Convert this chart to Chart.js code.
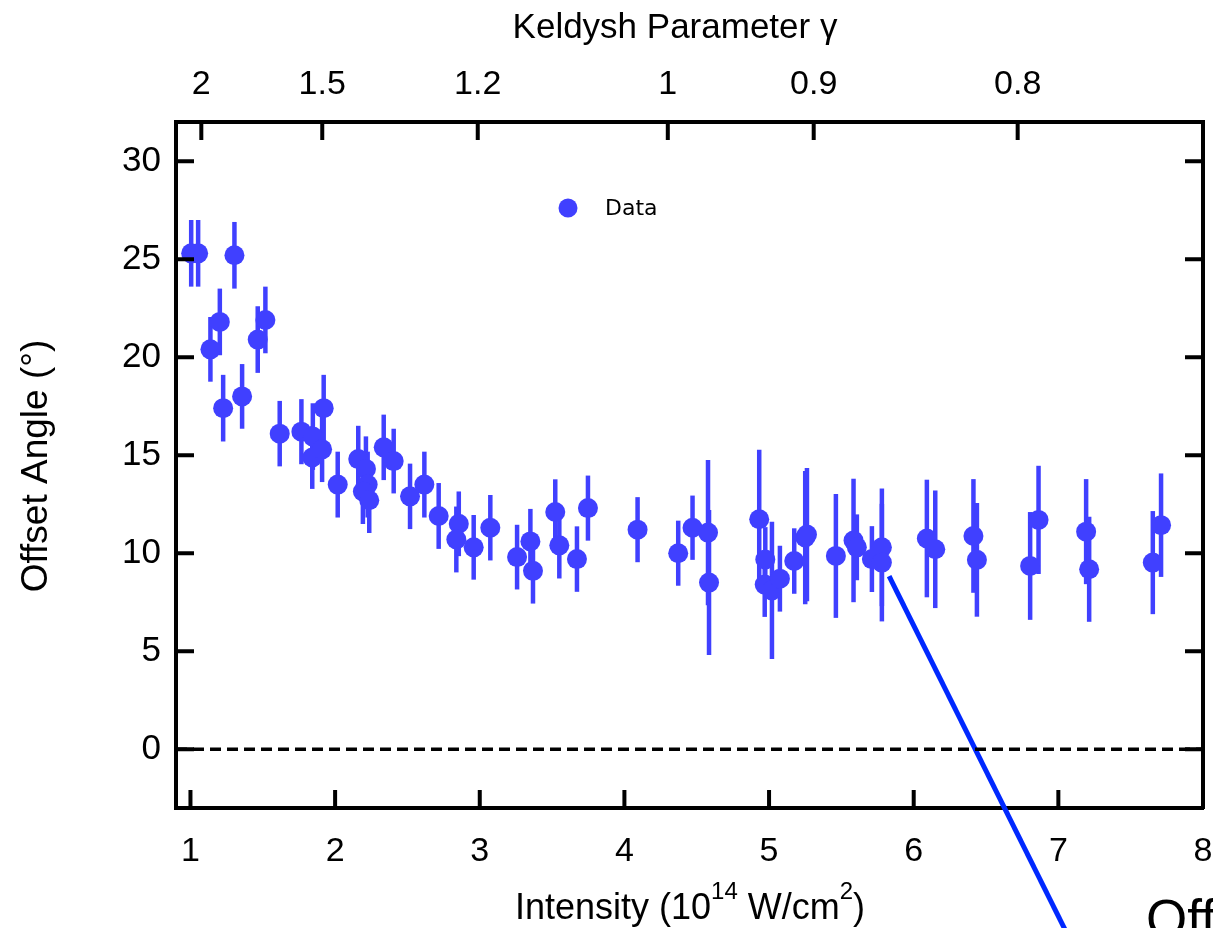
<!DOCTYPE html>
<html>
<head>
<meta charset="utf-8">
<script src="https://cdn.jsdelivr.net/npm/chart.js@4.4.1/dist/chart.umd.min.js"></script>
<style>
html, body { margin: 0; padding: 0; background: #fff; }
#grafica { display: block; }
</style>
</head>
<body>
<canvas id="grafica" width="1213" height="928"></canvas>
<script>
// measured offset angle vs. laser intensity (10^14 W/cm^2)
const intensity = [
  1.005, 1.053, 1.138, 1.203, 1.226, 1.304, 1.357, 1.465, 1.518, 1.617,
  1.767, 1.846, 1.842, 1.910, 1.921, 2.018, 2.160, 2.213, 2.225, 2.192,
  2.236, 2.336, 2.405, 2.518, 2.617, 2.716, 2.855, 2.838, 2.958, 3.073,
  3.258, 3.350, 3.368, 3.522, 3.550, 3.672, 3.748, 4.091, 4.372, 4.471,
  4.578, 4.585, 4.932, 4.974, 4.970, 5.020, 5.075, 5.174, 5.250, 5.262,
  5.462, 5.584, 5.607, 5.711, 5.780, 5.780, 6.091, 6.149, 6.413, 6.437,
  6.805, 6.863, 7.192, 7.213, 7.653, 7.710
]
const offsetAngle = [
  25.3, 25.3, 20.4, 21.8, 17.4, 25.2, 18.0, 20.9, 21.9, 16.1,
  16.2, 15.95, 14.88, 15.3, 17.4, 13.5, 14.8, 14.3, 13.5, 13.15,
  12.7, 15.4, 14.7, 12.9, 13.5, 11.9, 11.5, 10.7, 10.3, 11.3,
  9.8, 10.6, 9.1, 12.1, 10.4, 9.7, 12.3, 11.2, 10.0, 11.3,
  11.05, 8.5, 11.73, 9.68, 8.4, 8.1, 8.7, 9.6, 10.8, 10.95,
  9.86, 10.65, 10.3, 9.7, 10.3, 9.52, 10.75, 10.2, 10.88, 9.66,
  9.35, 11.7, 11.1, 9.18, 9.52, 11.43
]
const angleError = [
  1.7, 1.7, 1.65, 1.7, 1.7, 1.7, 1.65, 1.7, 1.7, 1.67,
  1.66, 1.7, 1.6, 1.67, 1.7, 1.68, 1.7, 1.66, 1.68, 1.66,
  1.67, 1.67, 1.65, 1.67, 1.68, 1.68, 1.65, 1.68, 1.65, 1.67,
  1.65, 1.66, 1.67, 1.67, 1.69, 1.67, 1.66, 1.66, 1.66, 1.64,
  3.7, 3.7, 3.55, 1.65, 1.65, 3.5, 1.68, 1.67, 3.4, 3.4,
  3.16, 3.15, 1.68, 1.68, 3.0, 3.0, 3.0, 3.0, 2.9, 2.9,
  2.75, 2.76, 2.68, 2.68, 2.63, 2.64
]

// axis ticks
const intensityTicks = [1, 2, 3, 4, 5, 6, 7, 8]
const angleTicks = [0, 5, 10, 15, 20, 25, 30]
const gammaTicks = [2, 1.5, 1.2, 1, 0.9, 0.8]
const keldyshConst = 4.3   // gamma = sqrt(keldyshConst / I)

// dashed reference at zero and the pointer line to the next panel
const zeroLine = [{ x: 0.9, y: 0 }, { x: 8, y: 0 }]
const pointerLine = [{ x: 5.83, y: 8.83 }, { x: 7.12, y: -10.3 }]

const blue = 'rgb(64,64,255)'
const fontFam = "'Liberation Sans', Arial, Helvetica, sans-serif"
Chart.defaults.font.family = fontFam
Chart.defaults.color = '#000'

var points = intensity.map((x, i) => ({ x: x, y: offsetAngle[i] }))

// vertical error bars, drawn under the markers
const errorBars = {
  id: 'errorBars',
  beforeDatasetsDraw(chart) {
    var c = chart.ctx, xs = chart.scales.x, ys = chart.scales.y
    c.save()
    c.strokeStyle = blue
    c.lineWidth = 4.5
    c.lineCap = 'butt'
    intensity.forEach((x, i) => {
      var px = xs.getPixelForValue(x)
      c.beginPath()
      c.moveTo(px, ys.getPixelForValue(offsetAngle[i] - angleError[i]))
      c.lineTo(px, ys.getPixelForValue(offsetAngle[i] + angleError[i]))
      c.stroke()
    })
    c.restore()
  }
}

// inward tick marks on all four sides
const innerTicks = {
  id: 'innerTicks',
  afterDraw(chart) {
    var c = chart.ctx, a = chart.chartArea, len = 18
    c.save()
    c.strokeStyle = '#000'
    c.lineWidth = 4
    c.beginPath()
    chart.scales.x.ticks.forEach(t => {
      var px = chart.scales.x.getPixelForValue(t.value)
      c.moveTo(px, a.bottom); c.lineTo(px, a.bottom - len)
    })
    chart.scales.x2.ticks.forEach(t => {
      var px = chart.scales.x2.getPixelForValue(t.value)
      c.moveTo(px, a.top); c.lineTo(px, a.top + len)
    })
    chart.scales.y.ticks.forEach(t => {
      var py = chart.scales.y.getPixelForValue(t.value)
      c.moveTo(a.left, py); c.lineTo(a.left + len, py)
      c.moveTo(a.right, py); c.lineTo(a.right - len, py)
    })
    c.stroke()
    c.restore()
  }
}

// axis titles, legend and the start of the neighbouring panel's label
const labels = {
  id: 'labels',
  afterDraw(chart) {
    var c = chart.ctx
    c.save()
    c.fillStyle = '#000'
    c.textBaseline = 'alphabetic'

    c.font = '35px ' + fontFam
    c.textAlign = 'center'
    c.fillText('Keldysh Parameter \u03b3', 675, 38)

    c.save()
    c.font = '37px ' + fontFam
    c.translate(47, 466)
    c.rotate(-Math.PI / 2)
    c.fillText('Offset Angle (\u00b0)', 0, 0)
    c.restore()

    // Intensity (10^14 W/cm^2)
    c.textAlign = 'left'
    var x = 515, base = 919
    var parts = [['Intensity (10', 36, 0], ['14', 24, -20], [' W/cm', 36, 0], ['2', 24, -20], [')', 36, 0]]
    parts.forEach(p => {
      c.font = p[1] + 'px ' + fontFam
      c.fillText(p[0], x, base + p[2])
      x += c.measureText(p[0]).width
    })

    // legend
    c.fillStyle = blue
    c.beginPath()
    c.arc(568, 208, 9.5, 0, Math.PI * 2)
    c.fill()
    c.fillStyle = '#000'
    c.font = "22px 'DejaVu Sans', sans-serif"
    c.textBaseline = 'middle'
    c.fillText('Data', 605, 209)

    c.textBaseline = 'alphabetic'
    c.font = '53px ' + fontFam
    c.fillText('Offset', 1146, 937)
    c.restore()
  }
}

var tickFont = { size: 34, family: fontFam }

var ctx = document.getElementById('grafica').getContext('2d')
var chart = new Chart(ctx, {
  type: 'scatter',
  data: {
    datasets: [
      {
        label: 'Data',
        data: points,
        pointRadius: 10,
        pointHoverRadius: 10,
        backgroundColor: blue,
        borderWidth: 0
      },
      {
        type: 'line',
        label: 'zero',
        data: zeroLine,
        borderColor: '#000',
        borderWidth: 3.5,
        borderDash: [11, 6],
        pointRadius: 0,
        fill: false
      },
      {
        type: 'line',
        label: 'pointer',
        data: pointerLine,
        borderColor: 'rgb(0,40,255)',
        borderWidth: 5,
        pointRadius: 0,
        fill: false,
        clip: false
      }
    ]
  },
  options: {
    responsive: false,
    animation: false,
    devicePixelRatio: 1,
    layout: { padding: 0 },
    plugins: { legend: { display: false }, tooltip: { enabled: false } },
    scales: {
      x: {
        type: 'linear', position: 'bottom', min: 0.9, max: 8,
        afterBuildTicks: s => { s.ticks = intensityTicks.map(v => ({ value: v })) },
        afterFit: s => { s.height = 120; s.paddingLeft = 0; s.paddingRight = 0 },
        grid: { display: false },
        border: { display: true, color: '#000', width: 4 },
        ticks: { font: tickFont, color: '#000', padding: 15, maxRotation: 0, autoSkip: false }
      },
      x2: {
        type: 'linear', position: 'top', min: 0.9, max: 8,
        afterBuildTicks: s => { s.ticks = gammaTicks.map(g => ({ value: keldyshConst / (g * g) })) },
        afterFit: s => { s.height = 122; s.paddingLeft = 0; s.paddingRight = 0 },
        grid: { display: false },
        border: { display: true, color: '#000', width: 4 },
        ticks: {
          font: tickFont, color: '#000', padding: 9, maxRotation: 0, autoSkip: false,
          callback: (v, i) => String(gammaTicks[i])
        }
      },
      y: {
        type: 'linear', position: 'left', min: -3, max: 32,
        afterBuildTicks: s => { s.ticks = angleTicks.map(v => ({ value: v })) },
        afterFit: s => { s.width = 176; s.paddingTop = 0; s.paddingBottom = 0 },
        grid: { display: false },
        border: { display: true, color: '#000', width: 4 },
        ticks: { font: { size: 35, family: fontFam }, color: '#000', padding: 7, autoSkip: false }
      },
      y2: {
        type: 'linear', position: 'right', min: -3, max: 32,
        afterBuildTicks: s => { s.ticks = angleTicks.map(v => ({ value: v })) },
        afterFit: s => { s.width = 9; s.paddingTop = 0; s.paddingBottom = 0 },
        grid: { display: false },
        border: { display: true, color: '#000', width: 4 },
        ticks: { display: false }
      }
    }
  },
  plugins: [errorBars, innerTicks, labels]
})
</script>
</body>
</html>
